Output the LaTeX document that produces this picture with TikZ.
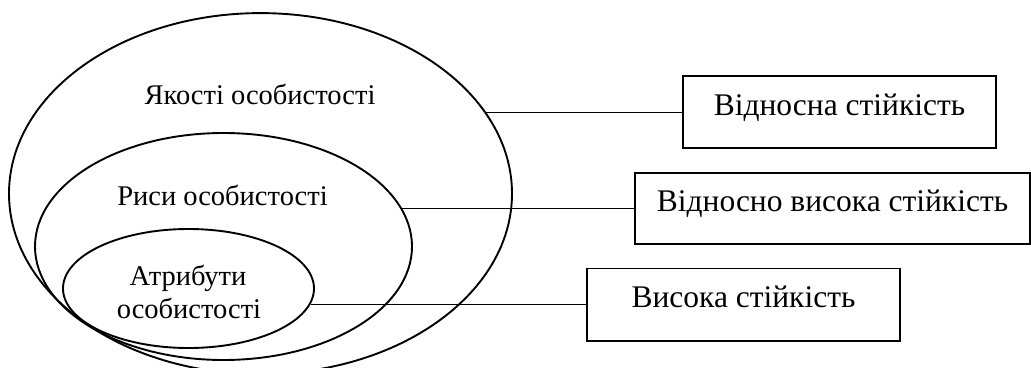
\documentclass[tikz,border=0pt]{standalone}
\usepackage{fontspec}
\setmainfont{Liberation Serif}
\usetikzlibrary{shapes.geometric}
\begin{document}
\begin{tikzpicture}[x=1pt,y=-1pt,
  ring/.style={draw, ellipse, line width=1.9pt, inner sep=0pt},
  label/.style={anchor=base, inner sep=0pt, font=\fontsize{28.5}{33}\selectfont},
  stbox/.style={draw, line width=1.5pt, inner sep=0pt, text height=21pt, text depth=14.5pt,
                font=\fontsize{31.5}{33}\selectfont},
  link/.style={line width=1.4pt}]
  \useasboundingbox (0,0) rectangle (1031,367);
  \clip (0,0) rectangle (1031,367);

  % nested ellipses
  \node[ring, minimum width=503pt, minimum height=361pt] (outer) at (260.5,193.6) {};
  \node[ring, minimum width=377pt, minimum height=227pt] (middle) at (223.5,246.5) {};
  \node[ring, minimum width=251pt, minimum height=119pt] (inner) at (188.5,288.5) {};

  % ellipse captions
  \node[label] (tq) at (260,104.5) {Якості особистості};
  \node[label] (tr) at (222.5,205) {Риси особистості};
  \node[label] (ta1) at (188,285) {Атрибути};
  \node[label] (ta2) at (189,318) {особистості};

  % stability boxes
  \node[stbox, minimum width=313pt, minimum height=72pt] (b1) at (839.5,112.2) {Відносна стійкість};
  \node[stbox, minimum width=395pt, minimum height=71pt] (b2) at (832.5,208.3) {Відносно висока стійкість};
  \node[stbox, minimum width=313pt, minimum height=72.5pt] (b3) at (743.5,304.5) {Висока стійкість};

  % points where the connectors meet the ellipses
  \coordinate (p1) at (486,112.2);
  \coordinate (p2) at (401.5,208.3);
  \coordinate (p3) at (310.5,304.5);

  \draw[link] (p1) -- (b1.west);
  \draw[link] (p2) -- (b2.west);
  \draw[link] (p3) -- (b3.west);
\end{tikzpicture}
\end{document}
